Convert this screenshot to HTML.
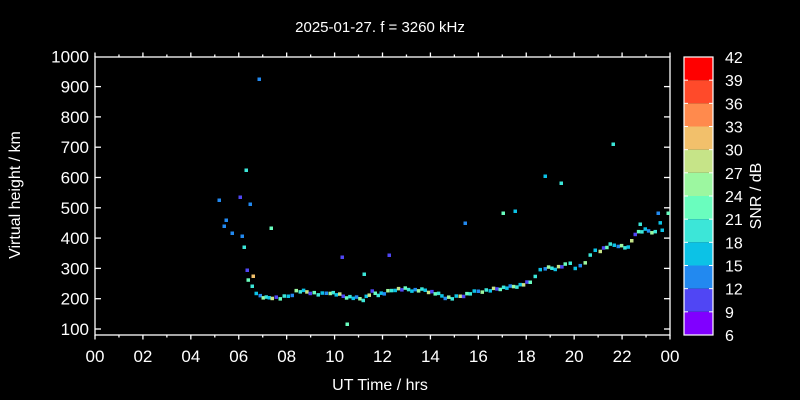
<!DOCTYPE html>
<html><head><style>
html,body{margin:0;background:#000;width:800px;height:400px;overflow:hidden;}
svg{display:block;}
svg text{font-family:"Liberation Sans",sans-serif;fill:#fff;}
</style></head><body>
<svg id="s" width="800" height="400" xmlns="http://www.w3.org/2000/svg">
<rect width="800" height="400" fill="#000"/>
<text x="380" y="32" font-size="15" text-anchor="middle">2025-01-27. f = 3260 kHz</text>
<g id="ax" stroke="#fff" stroke-width="1.3" fill="none">
<rect x="95" y="57" width="575" height="278"/>
</g>
<g id="lab" font-size="17"></g>
<text x="380" y="390" font-size="16" text-anchor="middle">UT Time / hrs</text>
<text transform="translate(20,195) rotate(-90)" font-size="16" text-anchor="middle">Virtual height / km</text>
<text transform="translate(761,196) rotate(-90)" font-size="16" text-anchor="middle">SNR / dB</text>
<g id="cb"></g>
<g id="pts"></g>
</svg>
<script>
var ns="http://www.w3.org/2000/svg";
function el(p,t,a,txt){var e=document.createElementNS(ns,t);for(var k in a)e.setAttribute(k,a[k]);if(txt)e.textContent=txt;document.getElementById(p).appendChild(e);return e;}
var X0=95,X1=670,Y=function(h){return 329-(h-100)*0.303;};
for(var h=100;h<=1000;h+=100){var y=Y(h);if(h<1000){el('ax','line',{x1:95,y1:y,x2:101,y2:y});el('ax','line',{x1:670,y1:y,x2:664,y2:y});}el('lab','text',{x:89,y:y+6,'text-anchor':'end'},String(h));}
for(var i=0;i<=24;i++){var x=X0+i*(X1-X0)/24,l=i%2?2.5:4.5;el('ax','line',{x1:x,y1:335,x2:x,y2:335+l});el('ax','line',{x1:x,y1:57,x2:x,y2:57-l});if(i%2==0)el('lab','text',{x:x,y:362,'text-anchor':'middle'},(i%24<10?'0':'')+(i%24));}
var cols=['#ff0000','#ff4a2a','#ff8a4d','#f2c06b','#c6e488','#9cf7a0','#6afdbe','#3ce6d8','#0cc2e6','#2289f0','#5046f4','#8000ff'];
var t=57,b=335,dh=(b-t)/12;
for(var i=0;i<12;i++)el('cb','rect',{x:684,y:t+i*dh,width:29,height:dh,fill:cols[i]});
el('cb','rect',{x:684,y:t,width:29,height:b-t,fill:'none',stroke:'#fff','stroke-width':1.2});
for(var i=0;i<=12;i++){var y=t+i*dh;el('cb','line',{x1:684,y1:y,x2:688,y2:y,stroke:'#fff'});el('cb','line',{x1:713,y1:y,x2:709,y2:y,stroke:'#fff'});el('cb','text',{x:725,y:y+6,'font-size':16},String(42-3*i));}
var pc=['#6afdbe','#3ce6d8','#0cc2e6','#2289f0','#9cf7a0','#3ce6d8','#0cc2e6','#c6e488','#5046f4'];
var curve=[[248,281],[252,286],[256,292],[260,296],[266,298],[272,297],[280,298],[288,296],[292,294],[296,291],[300,291],[310,292],[318,294],[322,294],[330,292],[336,294],[343,296],[363,299],[372,292],[378,294],[384,293],[395,289],[405,289],[415,290],[425,290],[435,293],[445,297],[452,298],[460,296],[470,293],[478,291],[490,290],[500,288],[510,287],[520,285],[530,282],[535,275],[540,270],[545,268],[555,268],[565,265],[570,263],[575,267],[580,266],[585,262],[590,256],[595,250],[600,250],[610,245],[618,245],[628,248],[635,233],[645,230],[655,232],[660,222],[665,220]];
var k=0;
for(var i=0;i<curve.length-1;i++){var a=curve[i],c=curve[i+1],d=c[0]-a[0],n=Math.max(1,Math.round(d/3.5));for(var j=0;j<n;j++){var f=j/n,x=a[0]+d*f,y=a[1]+(c[1]-a[1])*f+((k*7)%5-2)*0.6;el('pts','rect',{x:x-1.5,y:y-1.5,width:3.5,height:3.5,fill:pc[k%pc.length]});k++;}}
var iso=[[219,200,'#2289f0'],[224,226,'#2289f0'],[226,220,'#2289f0'],[232,233,'#2289f0'],[240,197,'#5046f4'],[242,236,'#2289f0'],[244,247,'#3ce6d8'],[246,170,'#3ce6d8'],[250,204,'#2289f0'],[259,79,'#2289f0'],[271,228,'#6afdbe'],[247,270,'#5046f4'],[253,276,'#f2c06b'],[342,257,'#5046f4'],[347,324,'#6afdbe'],[364,274,'#3ce6d8'],[389,255,'#5046f4'],[465,223,'#2289f0'],[503,213,'#6afdbe'],[515,211,'#0cc2e6'],[545,176,'#0cc2e6'],[561,183,'#3ce6d8'],[613,144,'#3ce6d8'],[668,213,'#6afdbe'],[658,213,'#2289f0'],[640,224,'#3ce6d8'],[662,230,'#0cc2e6']];
iso.forEach(function(p){el('pts','rect',{x:p[0]-1.5,y:p[1]-1.5,width:3.5,height:3.5,fill:p[2]});});
</script>
</body></html>
